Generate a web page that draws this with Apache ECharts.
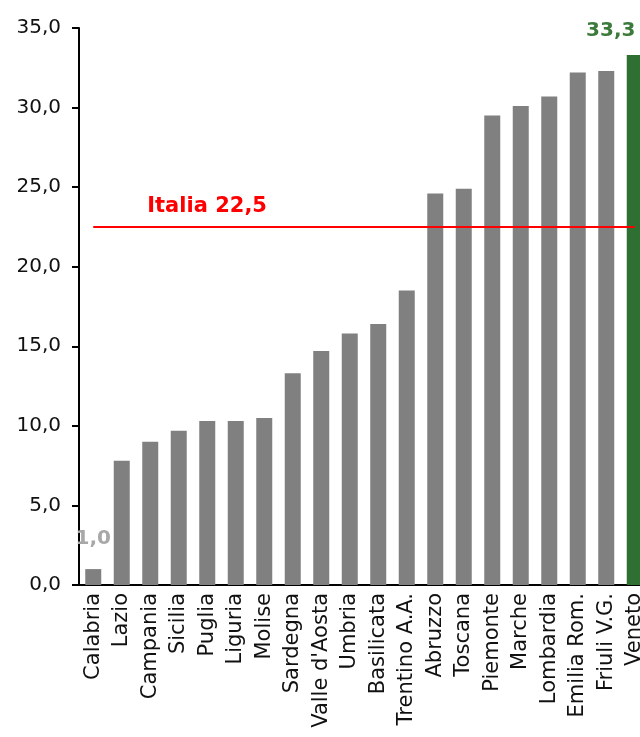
<!DOCTYPE html>
<html>
<head>
<meta charset="utf-8">
<script src="https://cdn.jsdelivr.net/npm/echarts@6/dist/echarts.min.js"></script>
<style>
  html, body { margin: 0; padding: 0; background: #fff; overflow: hidden; }
  #chart { width: 660px; height: 737px; }
</style>
</head>
<body>
<div id="chart"></div>
<script>
// Regional values, sorted ascending
const regions = ['Calabria', 'Lazio', 'Campania', 'Sicilia', 'Puglia', 'Liguria', 'Molise',
  'Sardegna', "Valle d'Aosta", 'Umbria', 'Basilicata', 'Trentino A.A.', 'Abruzzo', 'Toscana',
  'Piemonte', 'Marche', 'Lombardia', 'Emilia Rom.', 'Friuli V.G.', 'Veneto'];
const values = [1.0, 7.8, 9.0, 9.7, 10.3, 10.3, 10.5, 13.3, 14.7, 15.8, 16.4, 18.5,
  24.6, 24.9, 29.5, 30.1, 30.7, 32.2, 32.3, 33.3];
const italyAverage = 22.5;
const italyLabel = 'Italia';
const lowLabelRegion = 'Calabria';
const highlightRegion = 'Veneto';

const fmt = v => v.toFixed(1).replace('.', ',');

const barData = values.map((v, i) => {
  const name = regions[i];
  if (name === highlightRegion) {
    return {
      value: v,
      itemStyle: { color: '#2e7031' },
      label: {
        show: true, position: 'top', distance: 14, offset: [-24, 0],
        color: '#3c7a3c', fontWeight: 'bold', fontSize: 20,
        fontFamily: 'DejaVu Sans', formatter: p => fmt(p.value)
      }
    };
  }
  if (name === lowLabelRegion) {
    return {
      value: v,
      label: {
        show: true, position: 'top', distance: 20,
        color: '#a8a8a8', fontWeight: 'bold', fontSize: 20,
        fontFamily: 'DejaVu Sans', formatter: p => fmt(p.value)
      }
    };
  }
  return v;
});

const chart = echarts.init(document.getElementById('chart'));
chart.setOption({
  animation: false,
  backgroundColor: '#fff',
  grid: { left: 79, right: 11, top: 28, bottom: 152, containLabel: false },
  xAxis: {
    type: 'category',
    data: regions,
    axisLine: { lineStyle: { color: '#000', width: 2 } },
    axisTick: { show: false },
    axisLabel: {
      rotate: 90, interval: 0, margin: 8, color: '#111',
      fontFamily: 'DejaVu Sans', fontSize: 21
    }
  },
  yAxis: {
    type: 'value',
    min: 0, max: 35, interval: 5,
    axisLine: { show: true, lineStyle: { color: '#000', width: 2 } },
    axisTick: { show: true, length: 7, lineStyle: { color: '#000', width: 2 } },
    splitLine: { show: false },
    axisLabel: {
      margin: 18, color: '#111', fontFamily: 'DejaVu Sans', fontSize: 20,
      formatter: v => fmt(v)
    }
  },
  series: [{
    type: 'bar',
    data: barData,
    barWidth: 16,
    itemStyle: { color: '#808080' },
    markLine: {
      silent: true,
      symbol: 'none',
      lineStyle: { color: '#ff0000', width: 2, type: 'solid' },
      label: {
        show: true,
        position: 'insideStartTop',
        distance: [54, 10],
        color: '#ff0000', fontWeight: 'bold', fontSize: 21,
        fontFamily: 'DejaVu Sans',
        formatter: () => italyLabel + ' ' + fmt(italyAverage)
      },
      data: [[
        { coord: [0, italyAverage] },
        { coord: [regions.length - 1, italyAverage] }
      ]]
    }
  }]
});
</script>
</body>
</html>
